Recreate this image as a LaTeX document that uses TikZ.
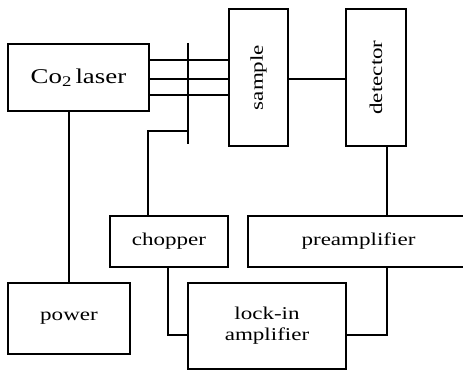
\documentclass[tikz,border=0pt]{standalone}
\usepackage{fontspec}
\usepackage{graphicx}
\setmainfont{Liberation Serif}
\newfontfamily\boxfont[FakeStretch=1.28]{Liberation Serif}
\usetikzlibrary{positioning}

\begin{document}
\begin{tikzpicture}[
    x=1pt, y=-1pt,
    unit/.style={rectangle, draw=black, line width=1.7pt, align=center, inner sep=0pt,
        font=\boxfont\fontsize{18}{21}\selectfont},
    wire/.style={line width=1.4pt}
]
\clip (0,0) rectangle (463,371);

\node[unit, minimum width=141pt, minimum height=67pt, font=\boxfont\fontsize{21}{24}\selectfont] (laser) at (78.5,77.5) {Co\textsubscript{2}\,laser};
\node[unit, minimum width=59pt, minimum height=137pt] (sample) at (258.5,77.5) {\rotatebox{90}{sample}};
\node[unit, minimum width=60pt, minimum height=137pt] (detector) at (376,77.5) {\rotatebox{90}{detector}};
\node[unit, minimum width=118pt, minimum height=51pt] (chopper) at (169,241.5) {chopper};
\node[unit, minimum width=221pt, minimum height=51pt] (preamp) at (358.5,241.5) {preamplifier};
\node[unit, minimum width=122pt, minimum height=71pt] (power) at (69,318.5) {power};
\node[unit, minimum width=158pt, minimum height=86pt] (lockin) at (267,326) {lock-in\\amplifier};

% chopper blade
\coordinate (bladetop) at (188,43);
\coordinate (bladebot) at (188,144);
\coordinate (bladejoin) at (188,131);

% laser beams
\foreach \yy in {60,79,95}
    \draw[wire] (laser.east |- 0,\yy) -- (sample.west |- 0,\yy);
\draw[wire] (bladetop) -- (bladebot);

\draw[wire] ([xshift=39pt]chopper.north west) |- (bladejoin);
\draw[wire] (power.north) -- (power.north |- laser.south);
\draw[wire] (sample.east |- 0,79) -- (detector.west |- 0,79);
\draw[wire] ([xshift=11pt]detector.south) -- ([xshift=11pt]detector.south |- preamp.north);
\draw[wire] ([xshift=-1pt]chopper.south) |- ([yshift=-9pt]lockin.west);
\draw[wire] ([xshift=11pt]detector.south |- preamp.south) |- ([yshift=-9pt]lockin.east);
\end{tikzpicture}
\end{document}
